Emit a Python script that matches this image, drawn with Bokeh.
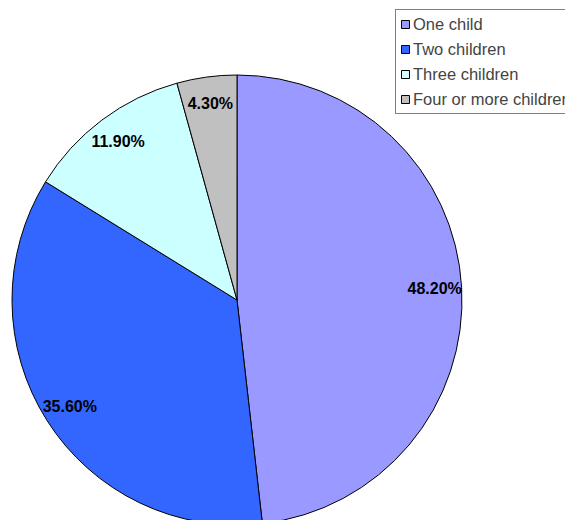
import numpy as np
from bokeh.plotting import figure
from bokeh.models import ColumnDataSource, Range1d, Legend, LegendItem
from bokeh.core.properties import value
from bokeh.embed import file_html
from bokeh.resources import INLINE

categories = ["One child", "Two children", "Three children", "Four or more children"]
shares = [48.2, 35.6, 11.9, 4.3]
labels = ["48.20%", "35.60%", "11.90%", "4.30%"]
colors = ["#9999FF", "#3366FF", "#CCFFFF", "#C0C0C0"]

W, H = 565, 520
cx, cy, R = 236.5, H - 299.5, 225.0

vals = np.array(shares, dtype=float)
frac = vals / vals.sum()
cum = np.cumsum(frac)
prev = cum - frac
start = np.pi / 2 - cum * 2 * np.pi
end = np.pi / 2 - prev * 2 * np.pi
mid = np.pi / 2 - (prev + frac / 2) * 2 * np.pi
lr = 0.88 * R

src = ColumnDataSource(dict(
    cat=categories, start=start, end=end, color=colors,
    lx=cx + lr * np.cos(mid), ly=cy + lr * np.sin(mid), label=labels,
))

p = figure(width=W, height=H, x_range=Range1d(0, W), y_range=Range1d(0, H),
           output_backend="svg", toolbar_location=None, min_border=0)
p.axis.visible = False
p.grid.visible = False
p.outline_line_color = None
p.background_fill_color = "white"
p.border_fill_color = "white"

r = p.wedge(x=cx, y=cy, radius=R, start_angle="start", end_angle="end",
            direction="anticlock", fill_color="color", line_color="black",
            line_width=1, source=src)

p.text(x="lx", y="ly", text="label", source=src, text_align="center",
       text_baseline="middle", text_font=value("Liberation Sans"),
       text_font_style="bold", text_font_size="16px", text_color="black")

legend = Legend(
    items=[LegendItem(label=c, renderers=[r], index=i) for i, c in enumerate(categories)],
    location=(395, H - 10 - 104),
    border_line_color="black", border_line_width=1,
    background_fill_color="white", background_fill_alpha=1.0,
    label_text_font="Liberation Sans", label_text_font_size="16.5px",
    label_standoff=3, glyph_width=10, glyph_height=10, label_height=20,
    spacing=5, padding=4, margin=0,
)
legend.padding = 4
p.add_layout(legend)

open("out.html", "w").write(file_html(p, INLINE))
